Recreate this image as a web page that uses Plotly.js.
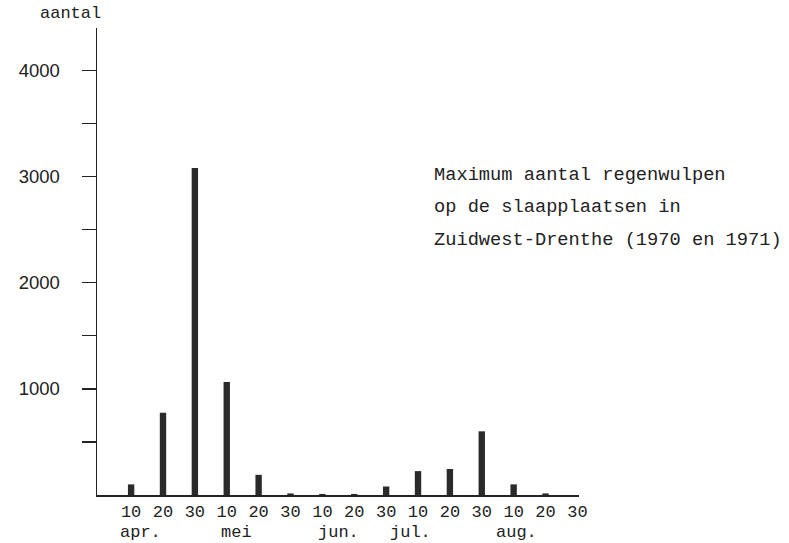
<!DOCTYPE html>
<html>
<head>
<meta charset="utf-8">
<script src="https://cdn.plot.ly/plotly-3.0.1.min.js"></script>
<style>html,body{margin:0;padding:0;background:#fff;}#chart{width:789px;height:543px;}</style>
</head>
<body>
<div id="chart"></div>
<script>
// Decade positions (10, 20, 30 of each month, april..august)
const decadeLabels = ['10','20','30','10','20','30','10','20','30','10','20','30','10','20','30'];
const decadeIndex = [0,1,2,3,4,5,6,7,8,9,10,11,12,13,14];
const counts = [100, 775, 3080, 1065, 190, 15, 10, 10, 80, 225, 245, 600, 100, 15, 0];
const monthNames = ['apr.', 'mei', 'jun.', 'jul.', 'aug.'];
const monthPos = [0.3, 3.3, 6.5, 8.75, 12.1];
const yTickVals = [500, 1000, 1500, 2000, 2500, 3000, 3500, 4000];
const yTickText = ['', '1000', '', '2000', '', '3000', '', '4000'];
const titleLines = ['Maximum aantal regenwulpen', 'op de slaapplaatsen in', 'Zuidwest-Drenthe (1970 en 1971)'];
const yLabel = 'aantal';

const mono = '"Liberation Mono", "Courier New", monospace';
const ink = '#222';

const trace = {
  type: 'bar',
  x: decadeIndex,
  y: counts,
  width: 0.2,
  marker: {color: '#2a2a2a', line: {width: 0}},
  hoverinfo: 'skip'
};

const plotTop = 28, plotB = 48, plotL = 97, plotR = 210;
const plotH = 543 - plotTop - plotB, plotW = 789 - plotL - plotR;

const annotations = [];
monthNames.forEach((m, i) => annotations.push({
  x: monthPos[i], y: 0, xref: 'x', yref: 'y', yshift: -37,
  text: m, showarrow: false, xanchor: 'center', yanchor: 'middle',
  font: {family: mono, size: 17, color: ink}
}));
const linePix = [175, 207, 240];
titleLines.forEach((t, i) => annotations.push({
  x: (432 - plotL) / plotW, xref: 'paper',
  y: 1 - (linePix[i] - plotTop) / plotH, yref: 'paper',
  text: t, showarrow: false, xanchor: 'left', yanchor: 'middle',
  font: {family: mono, size: 18.7, color: ink}
}));
annotations.push({
  x: (70 - plotL) / plotW, xref: 'paper', y: 1 - (14 - plotTop) / plotH, yref: 'paper',
  text: yLabel, showarrow: false, xanchor: 'center', yanchor: 'middle',
  font: {family: mono, size: 17, color: ink}
});

const layout = {
  width: 789, height: 543,
  margin: {l: plotL, r: plotR, t: plotTop, b: plotB},
  paper_bgcolor: '#ffffff', plot_bgcolor: '#ffffff',
  showlegend: false,
  xaxis: {
    range: [-1.07, 14.05],
    tickmode: 'array', tickvals: decadeIndex, ticktext: decadeLabels,
    ticks: '', showgrid: false, zeroline: false,
    showline: true, linecolor: ink, linewidth: 2,
    tickfont: {family: mono, size: 17, color: ink},
    fixedrange: true
  },
  yaxis: {
    range: [0, 4400],
    tickmode: 'array', tickvals: yTickVals, ticktext: yTickText,
    ticks: 'outside', ticklen: 14, tickwidth: 1.3, tickcolor: ink,
    ticklabelstandoff: 18,
    showgrid: false, zeroline: false,
    showline: true, linecolor: ink, linewidth: 1.5,
    tickfont: {family: '"Liberation Sans", Arial, sans-serif', size: 18.5, color: ink},
    fixedrange: true
  },
  annotations: annotations
};

Plotly.newPlot('chart', [trace], layout, {displayModeBar: false, staticPlot: true});
</script>
</body>
</html>
